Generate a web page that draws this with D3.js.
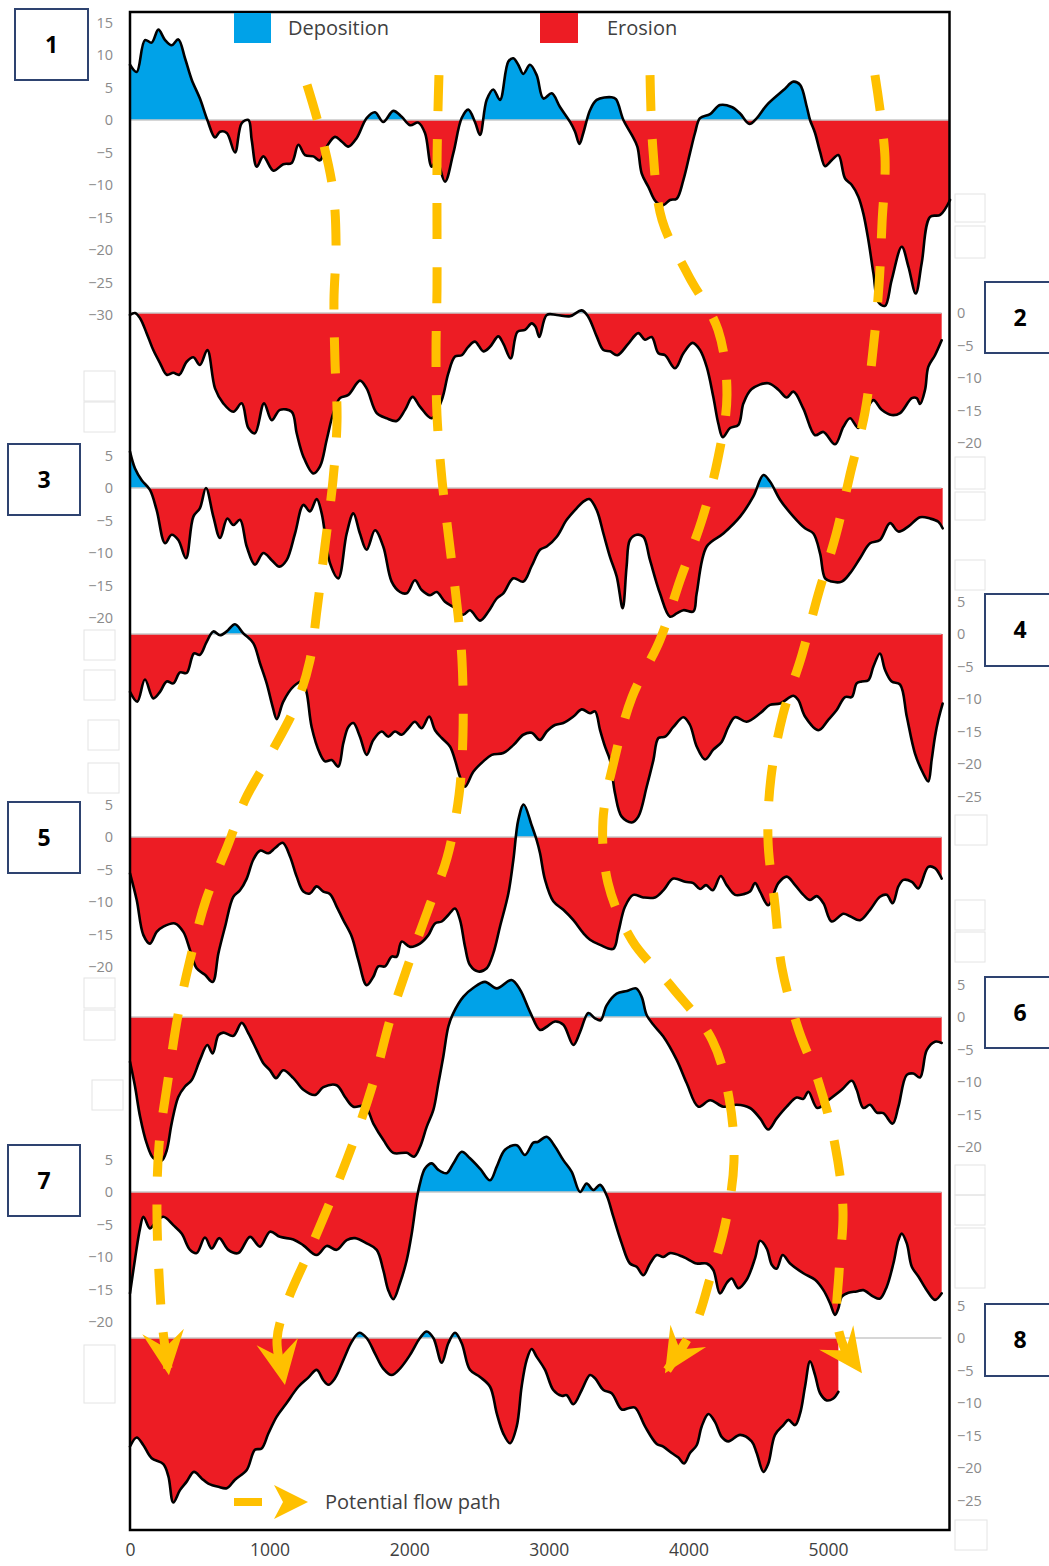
<!DOCTYPE html>
<html><head><meta charset="utf-8">
<script src="https://cdn.jsdelivr.net/npm/d3@7/dist/d3.min.js"></script>
<style>body{margin:0;background:#fff}svg{display:block}</style>
</head><body><svg id="chart" width="1049" height="1566"></svg>
<script>
// ---------------- DATA ----------------
const distanceTicks = [0, 1000, 2000, 3000, 4000, 5000];
const profileLabels = ["1","2","3","4","5","6","7","8"];
const legendLabels = ["Deposition", "Erosion", "Potential flow path"];

const ticks1 = [15,10,5,0,-5,-10,-15,-20,-25,-30];
const ticks2 = [0,-5,-10,-15,-20];
const ticks3 = [5,0,-5,-10,-15,-20];
const ticks4 = [5,0,-5,-10,-15,-20,-25];
const ticks5 = [5,0,-5,-10,-15,-20];
const ticks6 = [5,0,-5,-10,-15,-20];
const ticks7 = [5,0,-5,-10,-15,-20];
const ticks8 = [5,0,-5,-10,-15,-20,-25];

// [distance (m), elevation change]
const profile1 = [[0,8.5],[48,7.4],[107,12.3],[155,11.9],[203,13.9],[251,12.3],[298,11.5],[346,12.4],[394,9.5],[442,6.2],[501,3.3],[554,0],[609,-2.7],[645,-1.8],[693,-2.0],[752,-5.0],[800,-0.5],[848,0],[872,-3.1],[908,-7.2],[955,-5.6],[1027,-7.8],[1098,-6.8],[1158,-6.6],[1206,-3.8],[1254,-5.4],[1313,-5.6],[1361,-6.2],[1409,-4.1],[1468,-2.6],[1516,-3.3],[1564,-4.1],[1623,-2.8],[1695,0.3],[1755,1.2],[1814,-0.3],[1886,1.4],[1946,0.5],[2006,-0.8],[2065,-0.4],[2113,-2.0],[2161,-7.2],[2197,-6.2],[2256,-9.5],[2316,-5.1],[2376,0.3],[2423,1.6],[2471,-0.3],[2507,-2.3],[2555,3.1],[2602,4.7],[2650,3.1],[2710,9.0],[2746,9.5],[2781,8.5],[2817,7.1],[2865,8.5],[2913,6.9],[2961,3.3],[3021,4.1],[3080,2.0],[3152,-0.3],[3188,-1.8],[3219,-3.7],[3247,-2.0],[3295,1.5],[3343,3.1],[3450,3.5],[3481,3.2],[3534,0],[3594,-2.3],[3634,-4.1],[3665,-8.2],[3713,-10.3],[3768,-12.6],[3820,-13.1],[3868,-12.3],[3916,-12.1],[3964,-9.2],[4011,-5.1],[4047,-2.0],[4083,0.3],[4155,0.9],[4226,2.3],[4310,2.0],[4370,1.0],[4437,-0.6],[4490,0.3],[4561,2.3],[4681,4.6],[4752,5.9],[4800,5.4],[4848,2.0],[4871,0],[4907,-2.0],[4943,-4.9],[4979,-7.1],[5026,-6.2],[5074,-5.4],[5122,-9.0],[5170,-10.0],[5217,-11.8],[5253,-14.4],[5289,-18.5],[5325,-23.6],[5360,-28.0],[5408,-28.6],[5456,-24.6],[5528,-19.5],[5576,-22.6],[5628,-26.7],[5671,-22.0],[5731,-14.9],[5803,-14.6],[5874,-12.3]];

const profile2 = [[0,-0.3],[36,0],[72,-0.8],[119,-3.1],[167,-5.7],[215,-7.7],[263,-9.5],[310,-9.2],[353,-9.5],[406,-7.5],[454,-6.8],[501,-8.0],[554,-5.7],[609,-11.6],[668,-13.9],[740,-15.2],[800,-13.9],[848,-17.7],[895,-18.5],[960,-13.9],[1015,-16.5],[1074,-14.9],[1158,-15.2],[1194,-18.5],[1242,-22.1],[1313,-24.7],[1361,-23.6],[1409,-19.5],[1456,-15.4],[1504,-13.1],[1564,-12.6],[1647,-10.4],[1695,-11.6],[1767,-15.4],[1838,-16.2],[1910,-16.6],[1970,-14.9],[2024,-12.9],[2077,-14.4],[2161,-16.2],[2233,-13.4],[2280,-9.3],[2328,-6.7],[2376,-6.5],[2423,-5.2],[2471,-4.4],[2531,-5.9],[2579,-5.2],[2638,-3.6],[2674,-4.7],[2727,-7.0],[2775,-2.9],[2829,-2.6],[2877,-1.6],[2905,-2.1],[2932,-3.7],[2985,-0.3],[3057,-0.3],[3152,-0.5],[3236,0.4],[3283,-0.6],[3343,-3.6],[3391,-5.7],[3438,-5.9],[3491,-6.5],[3570,-4.7],[3641,-3.1],[3689,-4.1],[3737,-3.7],[3785,-6.2],[3833,-6.5],[3904,-8.5],[3964,-6.2],[4030,-4.6],[4083,-5.7],[4131,-8.3],[4178,-12.9],[4214,-17.0],[4246,-19.1],[4298,-17.7],[4358,-17.2],[4394,-13.9],[4453,-11.7],[4572,-10.8],[4644,-11.8],[4704,-13.0],[4752,-12.1],[4823,-14.7],[4907,-18.8],[4967,-18.3],[5050,-20.2],[5110,-17.5],[5158,-16.2],[5217,-17.7],[5277,-14.9],[5325,-13.4],[5384,-14.9],[5456,-15.7],[5516,-15.4],[5600,-13.1],[5635,-13.1],[5659,-14.0],[5695,-11.8],[5718,-8.3],[5766,-6.5],[5814,-4.2]];

const profile3 = [[0,5.6],[36,3.0],[84,1.2],[143,-0.3],[191,-3.4],[251,-8.5],[298,-7.2],[346,-8.0],[401,-10.8],[454,-4.4],[501,-3.1],[544,0],[597,-4.4],[645,-7.7],[697,-4.7],[740,-5.7],[788,-4.9],[836,-9.0],[895,-11.8],[955,-10.0],[1015,-11.1],[1070,-12.1],[1122,-11.1],[1182,-7.0],[1242,-2.6],[1289,-3.6],[1337,-1.7],[1373,-3.9],[1433,-11.6],[1492,-13.9],[1552,-7.0],[1600,-3.9],[1647,-7.0],[1695,-9.5],[1755,-6.5],[1814,-9.0],[1874,-14.4],[1934,-16.0],[1982,-16.2],[2041,-14.2],[2089,-15.7],[2149,-16.5],[2197,-16.0],[2256,-17.5],[2316,-18.3],[2387,-19.5],[2435,-18.8],[2507,-20.4],[2567,-19.0],[2627,-17.0],[2674,-16.2],[2746,-13.9],[2817,-14.4],[2877,-12.0],[2937,-9.5],[2985,-9.0],[3057,-7.5],[3128,-4.9],[3200,-3.1],[3247,-2.1],[3290,-1.7],[3343,-3.4],[3391,-7.0],[3438,-10.6],[3486,-13.6],[3529,-18.5],[3557,-12.1],[3581,-8.0],[3629,-7.2],[3677,-7.5],[3725,-11.1],[3796,-16.2],[3868,-19.8],[3916,-19.3],[3964,-18.8],[4035,-19.0],[4059,-16.2],[4131,-9.0],[4250,-7.0],[4370,-4.4],[4465,-1.3],[4537,2.0],[4584,1.0],[4656,-1.8],[4752,-4.4],[4835,-6.2],[4895,-7.0],[4943,-10.1],[4979,-13.9],[5026,-14.4],[5098,-14.4],[5158,-13.1],[5229,-10.8],[5301,-8.5],[5372,-8.0],[5444,-5.4],[5504,-6.7],[5576,-5.9],[5659,-4.5],[5731,-4.7],[5790,-5.2],[5821,-6.2]];

const profile4 = [[0,-8.9],[52,-10.4],[107,-7.0],[167,-9.9],[215,-8.9],[263,-7.3],[310,-7.6],[358,-5.9],[406,-6.0],[458,-3.0],[501,-3.2],[549,-1.2],[597,0.4],[645,-0.2],[693,0.4],[752,1.5],[812,0.1],[883,-1.4],[931,-4.5],[979,-7.6],[1022,-11.2],[1051,-13.1],[1098,-10.4],[1170,-8.1],[1237,-7.3],[1266,-9.1],[1301,-14.3],[1361,-18.4],[1397,-19.6],[1445,-19.4],[1492,-20.4],[1528,-16.8],[1564,-14.3],[1600,-13.7],[1647,-15.8],[1695,-18.6],[1743,-16.3],[1803,-15.0],[1850,-15.8],[1898,-15.0],[1946,-15.5],[1994,-14.5],[2041,-13.5],[2089,-14.5],[2143,-12.7],[2185,-14.8],[2233,-16.0],[2292,-17.3],[2328,-19.4],[2364,-22.0],[2400,-23.5],[2459,-21.2],[2531,-19.6],[2591,-18.6],[2674,-18.3],[2746,-17.1],[2817,-15.5],[2877,-15.2],[2937,-16.3],[2985,-15.0],[3044,-14.0],[3104,-13.7],[3176,-12.7],[3236,-11.6],[3295,-12.2],[3331,-11.9],[3367,-14.8],[3402,-17.3],[3438,-19.4],[3474,-24.5],[3522,-28.1],[3594,-29.0],[3641,-28.1],[3701,-23.5],[3749,-19.4],[3785,-16.0],[3833,-15.8],[3892,-14.3],[3964,-12.8],[4011,-14.0],[4059,-17.3],[4119,-19.3],[4178,-17.8],[4238,-16.6],[4286,-14.3],[4334,-12.8],[4417,-13.5],[4513,-12.2],[4584,-10.9],[4656,-10.7],[4752,-9.5],[4788,-10.2],[4835,-12.7],[4931,-14.8],[5002,-13.2],[5062,-11.7],[5122,-9.7],[5170,-9.7],[5205,-7.6],[5241,-7.3],[5289,-7.1],[5325,-5.0],[5372,-3.0],[5408,-5.5],[5456,-7.3],[5516,-7.8],[5564,-12.7],[5623,-18.4],[5683,-21.5],[5718,-22.7],[5742,-19.4],[5766,-15.8],[5790,-13.2],[5821,-10.7]];

const profile5 = [[0,-5.6],[48,-9.7],[96,-15.1],[143,-16.4],[191,-14.6],[239,-13.8],[322,-13.3],[382,-14.6],[430,-17.4],[477,-20.2],[537,-21.2],[592,-22.3],[633,-17.9],[681,-13.8],[740,-9.2],[788,-8.2],[836,-6.4],[883,-3.5],[931,-2.1],[991,-2.5],[1039,-1.7],[1094,-0.9],[1146,-3.0],[1194,-6.1],[1242,-8.4],[1289,-8.7],[1337,-7.6],[1385,-8.4],[1433,-8.8],[1480,-10.7],[1528,-12.8],[1588,-15.3],[1635,-18.9],[1695,-22.8],[1743,-21.5],[1779,-19.9],[1827,-19.9],[1874,-18.4],[1910,-18.4],[1946,-16.1],[2006,-16.9],[2077,-16.4],[2137,-15.1],[2185,-13.3],[2233,-13.0],[2280,-12.0],[2328,-11.0],[2364,-12.8],[2400,-16.9],[2435,-19.7],[2495,-20.7],[2555,-20.2],[2602,-17.9],[2650,-13.8],[2710,-8.7],[2746,-3.5],[2781,2.6],[2820,5.0],[2877,1.8],[2913,-0.5],[2937,-2.5],[2973,-6.6],[3032,-9.9],[3104,-11.2],[3176,-12.8],[3247,-14.8],[3295,-15.8],[3367,-16.6],[3462,-17.2],[3498,-14.6],[3546,-10.7],[3605,-8.9],[3677,-9.3],[3760,-9.3],[3820,-8.2],[3892,-6.4],[3976,-6.9],[4035,-7.1],[4083,-8.0],[4126,-7.4],[4174,-8.2],[4231,-6.0],[4274,-7.4],[4334,-8.9],[4394,-8.8],[4441,-8.4],[4477,-7.1],[4513,-8.4],[4572,-10.5],[4644,-7.1],[4704,-6.1],[4764,-7.4],[4823,-8.9],[4871,-9.7],[4919,-9.1],[4967,-10.2],[5026,-13.0],[5110,-11.8],[5158,-12.2],[5229,-12.8],[5301,-11.2],[5372,-9.2],[5420,-8.9],[5463,-10.2],[5504,-7.6],[5540,-6.6],[5600,-6.9],[5647,-7.9],[5718,-4.6],[5766,-4.8],[5814,-6.4]];

const profile6 = [[0,-6.9],[36,-10.7],[72,-15.3],[119,-19.4],[167,-21.7],[227,-22.1],[263,-20.5],[298,-16.4],[346,-12.3],[394,-10.7],[442,-9.7],[501,-6.6],[554,-4.3],[592,-5.6],[633,-2.8],[668,-2.4],[740,-2.9],[800,-0.9],[848,-2.5],[908,-5.1],[955,-7.1],[1003,-8.2],[1046,-9.4],[1098,-8.2],[1170,-9.4],[1242,-11.2],[1325,-12.0],[1385,-10.8],[1480,-10.5],[1540,-12.3],[1600,-13.8],[1683,-13.7],[1743,-16.4],[1814,-18.9],[1886,-20.9],[1982,-20.9],[2034,-21.5],[2077,-20.0],[2125,-16.9],[2173,-14.3],[2209,-10.2],[2244,-6.1],[2280,-1.5],[2316,0.6],[2387,3.1],[2460,4.5],[2543,5.4],[2627,4.4],[2733,5.7],[2794,4.2],[2865,0.8],[2937,-2.0],[2985,-1.5],[3044,-0.7],[3104,-1.2],[3176,-4.3],[3224,-2.3],[3283,0.6],[3331,-0.2],[3371,-0.5],[3414,1.8],[3486,3.6],[3560,4.0],[3625,4.4],[3665,3.1],[3701,0.3],[3749,-1.2],[3820,-3.0],[3916,-6.6],[3988,-10.2],[4071,-13.8],[4155,-12.8],[4250,-13.8],[4346,-13.5],[4441,-14.0],[4513,-15.6],[4572,-17.3],[4632,-15.6],[4704,-13.8],[4775,-12.4],[4823,-12.6],[4859,-11.5],[4923,-14.0],[5002,-12.8],[5098,-11.2],[5170,-9.8],[5205,-11.2],[5253,-14.0],[5301,-13.5],[5349,-14.7],[5396,-14.8],[5463,-16.4],[5504,-13.8],[5564,-8.9],[5611,-8.7],[5659,-9.3],[5707,-5.1],[5766,-3.8],[5814,-4.0]];

const profile7 = [[0,-15.6],[36,-10.3],[72,-5.6],[96,-3.8],[143,-5.6],[179,-4.8],[239,-3.8],[310,-5.1],[370,-6.4],[430,-8.9],[477,-9.4],[537,-7.0],[585,-8.7],[639,-7.1],[704,-8.9],[776,-9.4],[860,-6.9],[931,-8.4],[1003,-6.1],[1074,-6.9],[1170,-7.3],[1242,-8.2],[1337,-9.7],[1409,-8.3],[1480,-8.9],[1552,-7.4],[1612,-7.1],[1695,-7.9],[1767,-8.9],[1814,-12.0],[1850,-15.1],[1886,-16.5],[1934,-14.0],[1982,-10.5],[2018,-6.4],[2053,-1.2],[2077,1.3],[2113,3.6],[2161,4.4],[2209,3.4],[2268,2.9],[2316,4.4],[2376,6.2],[2435,5.2],[2507,3.6],[2579,1.8],[2627,3.9],[2686,6.5],[2770,7.2],[2829,5.7],[2889,7.6],[2920,7.7],[2985,8.5],[3044,7.0],[3104,4.9],[3164,3.1],[3224,0],[3271,1.3],[3319,0.3],[3367,1.1],[3414,-0.5],[3462,-3.8],[3522,-7.9],[3581,-11.0],[3629,-11.5],[3677,-12.8],[3725,-11.0],[3773,-9.7],[3820,-10.0],[3868,-9.4],[3964,-10.0],[4059,-11.0],[4131,-11.0],[4178,-12.0],[4226,-15.6],[4274,-14.0],[4310,-13.3],[4358,-14.8],[4417,-13.5],[4477,-10.2],[4513,-7.5],[4561,-8.7],[4597,-11.2],[4632,-11.8],[4675,-9.7],[4728,-11.0],[4823,-12.5],[4907,-13.5],[4967,-15.1],[5014,-17.1],[5050,-18.9],[5074,-17.9],[5098,-16.1],[5146,-15.5],[5205,-15.3],[5253,-15.1],[5325,-16.1],[5372,-16.4],[5420,-14.6],[5468,-11.0],[5504,-7.4],[5528,-6.4],[5564,-7.9],[5600,-11.5],[5647,-13.0],[5707,-15.1],[5766,-16.6],[5814,-15.6]];

const profile8 = [[0,-16.7],[48,-15.3],[96,-16.5],[155,-18.5],[239,-19.4],[275,-21.3],[310,-25.3],[358,-23.4],[406,-22.1],[458,-20.6],[513,-21.6],[561,-22.4],[633,-22.9],[693,-23.1],[752,-21.8],[836,-20.3],[895,-17.2],[943,-17.0],[991,-14.7],[1051,-12.1],[1122,-10.0],[1206,-7.5],[1277,-6.1],[1337,-4.9],[1385,-6.5],[1421,-7.2],[1468,-6.2],[1528,-3.4],[1588,-0.6],[1642,0.8],[1695,0],[1755,-2.4],[1814,-4.7],[1874,-5.7],[1934,-4.7],[2006,-2.6],[2077,0],[2125,1.0],[2173,0],[2233,-3.8],[2280,-0.8],[2328,0.8],[2376,-0.8],[2435,-4.9],[2507,-6.0],[2579,-7.5],[2627,-11.6],[2674,-14.7],[2722,-16.2],[2770,-13.6],[2805,-7.5],[2841,-3.4],[2877,-1.7],[2913,-2.9],[2973,-4.9],[3032,-8.0],[3092,-8.9],[3128,-8.8],[3176,-10.2],[3236,-8.0],[3295,-5.7],[3331,-6.2],[3391,-8.0],[3450,-8.5],[3522,-11.0],[3570,-10.8],[3617,-10.7],[3689,-13.6],[3773,-16.3],[3820,-16.7],[3880,-17.7],[3928,-18.4],[3969,-19.3],[4011,-17.7],[4059,-16.5],[4095,-13.6],[4143,-11.7],[4190,-12.9],[4238,-15.2],[4286,-15.9],[4370,-14.9],[4453,-15.9],[4489,-17.7],[4537,-20.6],[4572,-19.3],[4620,-14.9],[4680,-13.4],[4716,-12.6],[4764,-13.4],[4800,-11.6],[4835,-7.5],[4871,-3.6],[4907,-5.7],[4943,-8.5],[4991,-9.6],[5038,-9.3],[5074,-8.3]];

// flow paths: [distance (m), depth below top datum in the same vertical units]
const flowPathA = [[1268,5.4],[1361,-1.5],[1454,-10.8],[1476,-19.2],[1461,-27.7],[1468,-36.9],[1483,-46.2],[1454,-55.4],[1397,-65.4],[1339,-75.4],[1289,-83.1],[1189,-90.0],[1003,-97.7],[824,-104.6],[702,-111.5],[544,-120.0],[430,-129.2],[344,-137.7],[272,-147.7],[208,-157.7],[193,-167.7],[208,-177.7],[236,-186.2],[279,-193.1]];
const flowPathB = [[2213,6.9],[2206,1.5],[2199,-6.9],[2199,-16.2],[2199,-26.2],[2192,-35.4],[2199,-45.4],[2235,-55.4],[2285,-64.6],[2342,-74.6],[2378,-83.1],[2385,-94.6],[2357,-103.8],[2271,-113.5],[2135,-121.5],[1984,-130.5],[1862,-138.5],[1755,-147.2],[1626,-155.7],[1468,-164.6],[1289,-173.8],[1132,-181.5],[1053,-187.7],[1110,-194.6]];
const flowPathC = [[3725,6.9],[3746,-4.6],[3811,-15.4],[3997,-23.8],[4212,-32.3],[4276,-42.3],[4212,-52.0],[4097,-61.5],[3940,-70.8],[3796,-80.0],[3596,-88.8],[3474,-98.0],[3388,-107.7],[3424,-117.4],[3596,-126.2],[3882,-133.4],[4169,-141.5],[4291,-150.5],[4326,-160.3],[4262,-170.0],[4155,-178.2],[4047,-185.4],[3832,-192.8]];
const flowPathD = [[5336,6.9],[5408,-5.8],[5387,-15.7],[5365,-25.4],[5322,-35.4],[5265,-44.9],[5157,-54.6],[5057,-63.8],[4928,-73.1],[4813,-82.3],[4677,-91.5],[4591,-101.2],[4570,-110.8],[4620,-120.8],[4670,-130.5],[4785,-139.7],[4935,-148.2],[5050,-157.7],[5107,-167.7],[5079,-177.2],[5064,-184.6],[5122,-189.2],[5243,-192.8]];

// ---------------- LAYOUT ----------------
const W = 1049, H = 1566;
const BLUE = "#00A2E8", RED = "#ED1C24", ORANGE = "#FFC000";
const FONT = "'Open Sans', 'DejaVu Sans', sans-serif";
const svg = d3.select("#chart");
svg.append("rect").attr("width", W).attr("height", H).attr("fill", "#fff");

const x = d3.scaleLinear().domain([0, 5870]).range([130, 949.5]);
const pxPerUnit = 6.5;
const stackY = d3.scaleLinear().domain([0, -1]).range([120, 120 + pxPerUnit]);

const profiles = [
  {data: profile1, ticks: ticks1, base: 120,  side: "left",  end: 949.5},
  {data: profile2, ticks: ticks2, base: 313,  side: "right", end: 941.5},
  {data: profile3, ticks: ticks3, base: 488,  side: "left",  end: 941.5},
  {data: profile4, ticks: ticks4, base: 634,  side: "right", end: 941.5},
  {data: profile5, ticks: ticks5, base: 837,  side: "left",  end: 941.5},
  {data: profile6, ticks: ticks6, base: 1017, side: "right", end: 941.5},
  {data: profile7, ticks: ticks7, base: 1192, side: "left",  end: 941.5},
  {data: profile8, ticks: ticks8, base: 1338, side: "right", end: 941.5}
];

// faint leftover boxes
const ghostBoxes = [[84,371,31,30],[84,402,31,30],[84,630,31,30],[84,670,31,30],[88,720,31,30],[88,763,31,30],[84,978,31,30],[84,1010,31,30],[92,1080,31,30],[84,1345,31,58],
  [955,194,30,28],[955,226,30,32],[955,457,30,32],[955,492,30,28],[955,560,30,30],[955,815,32,30],[955,900,30,30],[955,932,30,30],[955,1165,30,30],[955,1195,30,30],[955,1228,30,60],[955,1520,32,30]];
svg.append("g").selectAll("rect").data(ghostBoxes).join("rect")
  .attr("x", d => d[0]).attr("y", d => d[1]).attr("width", d => d[2]).attr("height", d => d[3])
  .attr("fill", "none").attr("stroke", "#e4e4e4").attr("stroke-width", 1);

const defs = svg.append("defs");
const curve = d3.curveCatmullRom.alpha(0.5);

profiles.forEach((p, i) => {
  const y = d3.scaleLinear().domain([0, -1]).range([p.base, p.base + pxPerUnit]);
  defs.append("clipPath").attr("id", "above" + i)
    .append("rect").attr("x", 0).attr("y", 0).attr("width", W).attr("height", p.base);
  defs.append("clipPath").attr("id", "below" + i)
    .append("rect").attr("x", 0).attr("y", p.base).attr("width", W).attr("height", H - p.base);
  const area = d3.area().x(d => x(d[0])).y0(y(0)).y1(d => y(d[1])).curve(curve);
  const line = d3.line().x(d => x(d[0])).y(d => y(d[1])).curve(curve);
  const g = svg.append("g");
  g.append("path").attr("d", area(p.data)).attr("fill", BLUE).attr("clip-path", `url(#above${i})`);
  g.append("path").attr("d", area(p.data)).attr("fill", RED).attr("clip-path", `url(#below${i})`);
  g.append("line").attr("x1", 130).attr("x2", p.end).attr("y1", y(0)).attr("y2", y(0))
    .attr("stroke", "#c9c9c9").attr("stroke-width", 1.6);
  g.append("path").attr("d", line(p.data)).attr("fill", "none").attr("stroke", "#000")
    .attr("stroke-width", 2.6).attr("stroke-linejoin", "round").attr("stroke-linecap", "round");

  // y axis labels
  const axis = (p.side === "left" ? d3.axisLeft(y) : d3.axisRight(y))
    .tickValues(p.ticks).tickSize(0).tickPadding(0).tickFormat(d3.format("d"));
  const ax = svg.append("g")
    .attr("transform", `translate(${p.side === "left" ? 113 : 957},0)`)
    .call(axis);
  ax.select(".domain").remove();
  ax.selectAll("text").attr("font-family", FONT).attr("font-size", 14.5).attr("fill", "#8a8a8a");
});

// flow paths
const flowLine = d3.line().x(d => x(d[0])).y(d => stackY(d[1])).curve(curve);
function arrowHead(g, tx, ty, ang, L, Wd, N) {
  g.append("path")
    .attr("d", `M0,0 L${-L},${-Wd} L${-N},0 L${-L},${Wd} Z`)
    .attr("transform", `translate(${tx},${ty}) rotate(${ang})`)
    .attr("fill", ORANGE);
}
const flowG = svg.append("g");
[flowPathA, flowPathB, flowPathC, flowPathD].forEach(fp => {
  flowG.append("path").attr("d", flowLine(fp)).attr("fill", "none")
    .attr("stroke", ORANGE).attr("stroke-width", 9).attr("stroke-dasharray", "36,28");
  const a = fp[fp.length - 2], b = fp[fp.length - 1];
  const ang = Math.atan2(stackY(b[1]) - stackY(a[1]), x(b[0]) - x(a[0])) * 180 / Math.PI;
  arrowHead(flowG, x(b[0]), stackY(b[1]), ang, 44, 21, 28);
});

// frame
svg.append("rect").attr("x", 130).attr("y", 12).attr("width", 819.5).attr("height", 1518)
  .attr("fill", "none").attr("stroke", "#000").attr("stroke-width", 2.5);

// bottom axis
const bx = svg.append("g").attr("transform", "translate(0,1530)")
  .call(d3.axisBottom(x).tickValues(distanceTicks).tickSize(0).tickPadding(14).tickFormat(d3.format("d")));
bx.select(".domain").remove();
bx.selectAll("text").attr("font-family", FONT).attr("font-size", 17.5).attr("fill", "#404040");

// legend
const lg = svg.append("g").attr("font-family", FONT).attr("font-size", 20).attr("fill", "#404040");
lg.append("rect").attr("x", 234).attr("y", 13).attr("width", 37).attr("height", 30).attr("fill", BLUE);
lg.append("text").attr("x", 288).attr("y", 28).attr("dy", "0.35em").text(legendLabels[0]);
lg.append("rect").attr("x", 540).attr("y", 13).attr("width", 38).attr("height", 30).attr("fill", RED);
lg.append("text").attr("x", 607).attr("y", 28).attr("dy", "0.35em").text(legendLabels[1]);
lg.append("line").attr("x1", 234).attr("x2", 262).attr("y1", 1502).attr("y2", 1502)
  .attr("stroke", ORANGE).attr("stroke-width", 8);
arrowHead(lg, 308, 1502, 0, 34, 17, 25);
lg.append("text").attr("x", 325).attr("y", 1502).attr("dy", "0.35em").text(legendLabels[2]);

// numbered boxes
const boxes = [[15,9,73,71],[985,282,80,71],[8,444,72,71],[985,594,80,72],[8,802,72,71],[985,977,80,71],[8,1145,72,71],[985,1304,80,72]];
const bg = svg.append("g");
boxes.forEach((b, i) => {
  bg.append("rect").attr("x", b[0]).attr("y", b[1]).attr("width", b[2]).attr("height", b[3])
    .attr("fill", "#fff").attr("stroke", "#2E4370").attr("stroke-width", 2);
  const cx = b[0] < 500 ? b[0] + b[2] / 2 : 1020;
  bg.append("text").attr("x", cx).attr("y", b[1] + b[3] / 2).attr("dy", "0.36em")
    .attr("text-anchor", "middle").attr("font-family", FONT).attr("font-weight", 700)
    .attr("font-size", 23).attr("fill", "#000").text(profileLabels[i]);
});
</script></body></html>
